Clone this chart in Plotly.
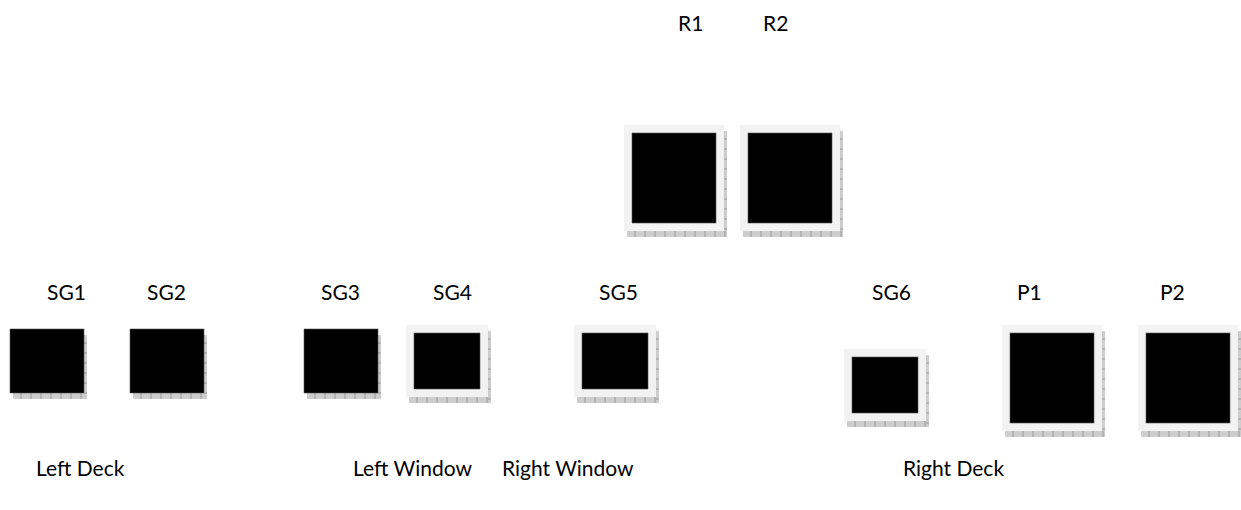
import plotly.graph_objects as go
import numpy as np

# ---- data ----
box_names = ["R1", "R2", "SG1", "SG2", "SG3", "SG4", "SG5", "SG6", "P1", "P2"]
box_left = [632, 748, 10, 130, 304, 414, 582, 852, 1010, 1146]
box_top = [133, 133, 329, 329, 329, 333, 333, 357, 333, 333]
box_right = [716, 832, 84, 204, 378, 480, 648, 918, 1094, 1230]
box_bottom = [223, 223, 393, 393, 393, 389, 389, 413, 423, 423]
box_framed = [True, True, False, False, False, True, True, True, True, True]

label_names = ["R1", "R2", "SG1", "SG2", "SG3", "SG4", "SG5", "SG6", "P1", "P2"]
label_x = [690, 775, 66, 166, 340, 452, 618, 891, 1029, 1172]
label_y = [22, 22, 291, 291, 291, 291, 291, 291, 291, 291]

zone_names = ["Left Deck", "Left Window", "Right Window", "Right Deck"]
zone_x = [80, 412, 568, 953]
zone_y = [467, 467, 467, 467]

W, H = 1241, 510
FRAME = 8
SHX, SHY = 3, 6
FONT = dict(family="Lato, Open Sans, sans-serif", size=21, color="#000000")

shapes = []
for l, t, r, b, fr in zip(box_left, box_top, box_right, box_bottom, box_framed):
    ol, ot, orr, ob = (l - FRAME, t - FRAME, r + FRAME, b + FRAME) if fr else (l, t, r, b)
    # shadow
    shapes.append(dict(type="rect", xref="x", yref="y", x0=ol + SHX, x1=orr + SHX,
                       y0=ot + SHY, y1=ob + SHY, fillcolor="#cdcdcd",
                       line=dict(width=0), layer="above"))
    for xx in np.arange(ol + SHX + 8, orr + SHX, 10):
        shapes.append(dict(type="line", xref="x", yref="y", x0=xx, x1=xx, y0=ob, y1=ob + SHY,
                           line=dict(color="#9a9a9a", width=1), layer="above"))
    for yy in np.arange(ot + SHY + 8, ob + SHY, 10):
        shapes.append(dict(type="line", xref="x", yref="y", x0=orr, x1=orr + SHX, y0=yy, y1=yy,
                           line=dict(color="#9a9a9a", width=1), layer="above"))
    if fr:
        shapes.append(dict(type="rect", xref="x", yref="y", x0=ol, x1=orr, y0=ot, y1=ob,
                           fillcolor="#f2f2f2", line=dict(width=0), layer="above"))
    shapes.append(dict(type="rect", xref="x", yref="y", x0=l, x1=r, y0=t, y1=b,
                       fillcolor="#000000", line=dict(color="#555555", width=0.6), layer="above"))

annotations = []
for n, x, y in zip(label_names, label_x, label_y):
    annotations.append(dict(x=x, y=y, xref="x", yref="y", text=n, showarrow=False,
                            xanchor="center", yanchor="middle", font=FONT))
for n, x, y in zip(zone_names, zone_x, zone_y):
    annotations.append(dict(x=x, y=y, xref="x", yref="y", text=n, showarrow=False,
                            xanchor="center", yanchor="middle", font=FONT))

fig = go.Figure()
fig.add_trace(go.Scatter(x=[0, W], y=[0, H], mode="markers",
                         marker=dict(opacity=0), hoverinfo="skip", showlegend=False))
fig.update_layout(
    width=W, height=H, margin=dict(l=0, r=0, t=0, b=0),
    paper_bgcolor="white", plot_bgcolor="white",
    xaxis=dict(range=[0, W], visible=False, fixedrange=True),
    yaxis=dict(range=[H, 0], visible=False, fixedrange=True),
    shapes=shapes, annotations=annotations, showlegend=False,
)
fig.write_html("out.html", config={"displayModeBar": False},
               post_script="document.body.style.margin='0';document.body.style.overflow='hidden';")
